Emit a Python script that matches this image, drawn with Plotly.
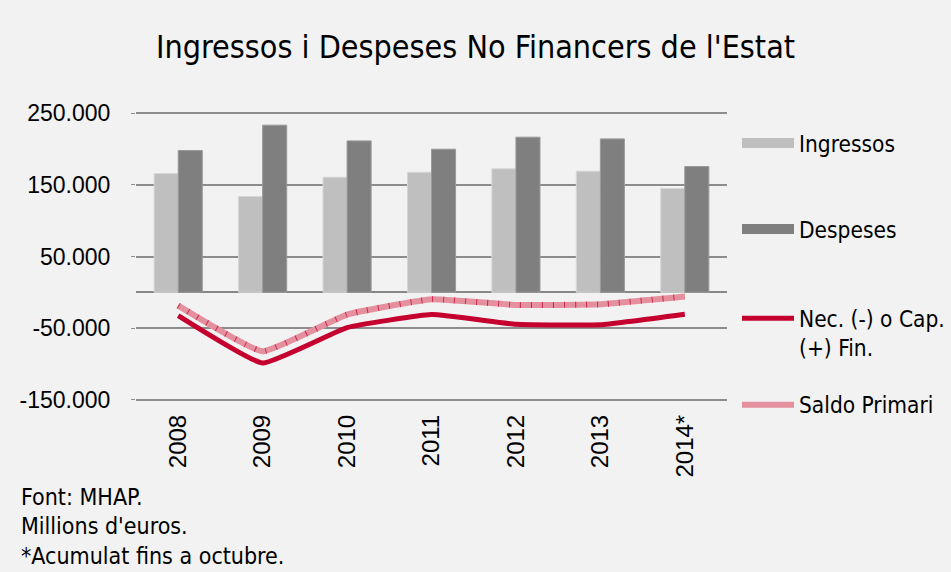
import plotly.graph_objects as go

years = ["2008", "2009", "2010", "2011", "2012", "2013", "2014*"]
ingressos = [166000, 133800, 160800, 167800, 172500, 169200, 145000]
despeses = [198200, 233600, 211600, 200000, 216800, 214400, 175800]
nec_cap = [-32600, -98900, -49400, -31200, -44800, -45500, -30800]
saldo_primari = [-18600, -82500, -31200, -9800, -17700, -16800, -6000]

ytick_vals = [-150000, -50000, 50000, 150000, 250000]
ytick_text = ["-150.000", "-50.000", "50.000", "150.000", "250.000"]
y_range = [-152000, 252000]

COND = "Liberation Sans Narrow, DejaVu Sans Condensed, Arial Narrow, sans-serif"
TICK = "Liberation Sans, Arial, sans-serif"
BG = "#f2f2f2"
RED = "#c5002f"
PINK = "#e4909f"

fig = go.Figure()

fig.add_trace(go.Bar(x=years, y=ingressos, name="Ingressos", legendgroup="ing",
                     marker=dict(color="#bfbfbf", line=dict(color="#d6d6d6", width=1)),
                     showlegend=False))
fig.add_trace(go.Bar(x=years, y=despeses, name="Despeses", legendgroup="des",
                     marker=dict(color="#7f7f7f", line=dict(color="#9a9a9a", width=1)),
                     showlegend=False))
fig.add_trace(go.Scatter(x=years, y=nec_cap, name="Nec. (-) o Cap.<br>(+) Fin.", mode="lines",
                         line=dict(color=RED, width=5, shape="spline", smoothing=0.35),
                         legend="legend3"))
fig.add_trace(go.Scatter(x=years, y=saldo_primari, name="Saldo Primari", mode="lines",
                         legendgroup="sal",
                         line=dict(color=PINK, width=6, shape="spline", smoothing=0.35),
                         legend="legend4"))
fig.add_trace(go.Scatter(x=years, y=saldo_primari, name="Saldo Primari", mode="lines",
                         legendgroup="sal", showlegend=False, opacity=0.8,
                         line=dict(color="#c8103e", width=6, dash="1px,10px",
                                   shape="spline", smoothing=0.35),
                         legend="legend4"))

# legend keys for the bar series (same groups as the bars)
fig.add_trace(go.Scatter(x=[None], y=[None], name="Ingressos", legendgroup="ing", mode="lines",
                         line=dict(color="#bfbfbf", width=15), legend="legend"))
fig.add_trace(go.Scatter(x=[None], y=[None], name="Despeses", legendgroup="des", mode="lines",
                         line=dict(color="#7f7f7f", width=15), legend="legend2"))

PX_PER = (399.5 - 113) / 400000.0
PLOT_TOP = 113 - (y_range[1] - 250000) * PX_PER
PLOT_BOT = 399.5 + (-150000 - y_range[0]) * PX_PER
PH = PLOT_BOT - PLOT_TOP
PL, PR = 136, 727


def ypaper(px):
    return (PLOT_BOT - px) / PH


def xpaper(px):
    return (px - PL) / (PR - PL)


leg_common = dict(font=dict(family=COND, size=22.5, color="#000"), bgcolor="rgba(0,0,0,0)",
                  xanchor="left", yanchor="middle", itemwidth=52, valign="top",
                  x=xpaper(737))

fig.update_layout(
    width=951, height=572,
    paper_bgcolor=BG, plot_bgcolor=BG,
    separators=",.",
    margin=dict(l=PL, r=951 - PR, t=PLOT_TOP, b=572 - PLOT_BOT, autoexpand=False),
    barmode="group", bargap=0.43, bargroupgap=0,
    title=dict(text="Ingressos i Despeses No Financers de l'Estat",
               font=dict(family=COND, size=32, color="#000"),
               x=0.5, xref="container", xanchor="center",
               y=1 - 47 / 572, yref="container", yanchor="middle"),
    legend=dict(**leg_common, y=ypaper(143)),
    legend2=dict(**leg_common, y=ypaper(229)),
    legend3=dict(**leg_common, y=ypaper(333)),
    legend4=dict(**leg_common, y=ypaper(405)),
    xaxis=dict(showgrid=False, showline=False, ticks="", tickangle=-90, automargin=False,
               tickfont=dict(family=TICK, size=24, color="#000"),
               ticklabelstandoff=8, fixedrange=True),
    yaxis=dict(range=y_range, tickvals=ytick_vals, ticktext=ytick_text, automargin=False,
               showgrid=True, gridcolor="#8c8c8c", gridwidth=2,
               zeroline=True, zerolinecolor="#878787", zerolinewidth=2,
               ticks="outside", ticklen=4, tickcolor="#8c8c8c", tickwidth=1,
               tickfont=dict(family=TICK, size=23, color="#000"),
               ticklabelstandoff=16, showline=False, fixedrange=True),
)

notes = ["Font: MHAP.", "Millions d'euros.", "*Acumulat fins a octubre."]
note_y = [497, 526, 556]
for t, yy in zip(notes, note_y):
    fig.add_annotation(text=t, xref="paper", yref="paper", x=xpaper(19), y=ypaper(yy),
                       xanchor="left", yanchor="middle", showarrow=False,
                       font=dict(family=COND, size=23, color="#000"))

fig.write_html(
    "out.html",
    config={"displayModeBar": False},
    post_script="document.body.style.margin='0';document.body.style.overflow='hidden';",
)
